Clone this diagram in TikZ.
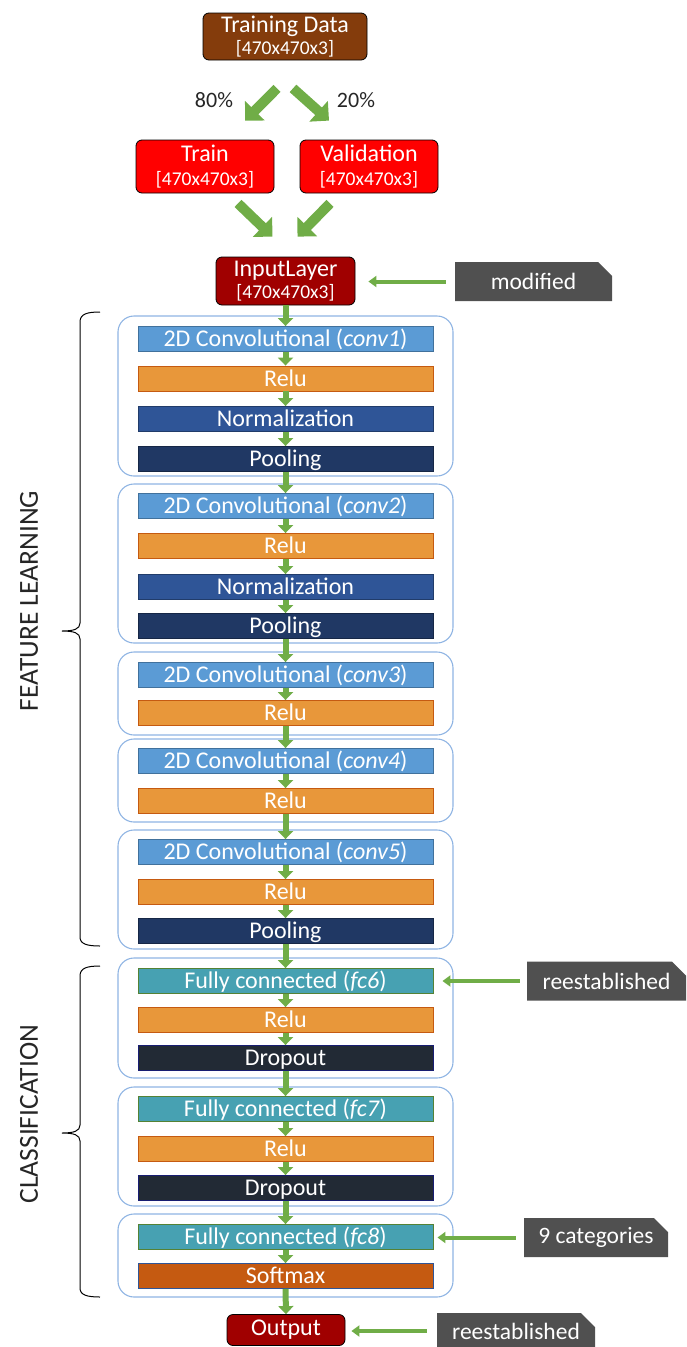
\documentclass[tikz,border=0pt]{standalone}
\usepackage{fontspec}
\setmainfont{Carlito}
\usetikzlibrary{arrows.meta,calc,shapes.misc}

\definecolor{tdbrown}{HTML}{843C0C}
\definecolor{splitred}{HTML}{FF0000}
\definecolor{inred}{HTML}{A00000}
\definecolor{grpline}{HTML}{8FB4E3}
\definecolor{convfill}{HTML}{5B9BD5}
\definecolor{convline}{HTML}{41719C}
\definecolor{relufill}{HTML}{E8973A}
\definecolor{reluline}{HTML}{C55A11}
\definecolor{normfill}{HTML}{2F5597}
\definecolor{poolfill}{HTML}{203864}
\definecolor{fcfill}{HTML}{47A1B2}
\definecolor{fcline}{HTML}{548235}
\definecolor{dropfill}{HTML}{222A35}
\definecolor{softfill}{HTML}{C55A11}
\definecolor{tagfill}{HTML}{505050}
\definecolor{arrowgreen}{HTML}{70AD47}
\definecolor{sidetext}{HTML}{262626}

\newcommand{\dimtext}[1]{{\fontsize{19.5}{20}\selectfont #1}}

\tikzset{
  datanode/.style={draw=black, line width=0.8pt, rounded corners=6pt, text=white,
    align=center, inner sep=0pt, font=\fontsize{24}{24}\selectfont},
  layer/.style={minimum width=295pt, minimum height=25pt, inner sep=0pt, line width=0.9pt,
    text=white, font=\fontsize{24}{24}\selectfont, text height=18pt, text depth=3pt},
  conv/.style={layer, fill=convfill, draw=convline},
  relu/.style={layer, fill=relufill, draw=reluline},
  norm/.style={layer, fill=normfill, draw=normfill!70!black},
  pool/.style={layer, fill=poolfill, draw=poolfill!70!black},
  fc/.style={layer, fill=fcfill, draw=fcline},
  drop/.style={layer, fill=dropfill, draw=dropfill!70!blue},
  soft/.style={layer, fill=softfill, draw=normfill},
  group/.style={draw=grpline, line width=1.1pt, rounded corners=16pt,
    minimum width=335pt, inner sep=0pt},
  tag/.style={chamfered rectangle, chamfered rectangle corners=north east,
    chamfered rectangle xsep=7pt, chamfered rectangle ysep=7pt,
    fill=tagfill, text=white, inner sep=0pt, minimum height=39pt,
    font=\fontsize{23.5}{23.5}\selectfont},
  chainarrow/.style={draw=arrowgreen, line width=6pt,
    -{Triangle[width=15pt,length=8pt]}},
  bigarrow/.style={draw=arrowgreen, line width=10pt,
    -{Triangle[width=27pt,length=14pt]}},
  tagarrow/.style={draw=arrowgreen, line width=4pt,
    -{Triangle[width=11pt,length=8pt]}},
  brace/.style={draw=black, line width=1pt},
  sidelabel/.style={rotate=90, text=sidetext, font=\fontsize{27.5}{27.5}\selectfont},
  pct/.style={text=sidetext, font=\fontsize{22}{22}\selectfont}
}

\begin{document}
\begin{tikzpicture}[x=1pt,y=-1pt]
\useasboundingbox (0,0) rectangle (686,1347);

% ---- data split ----
\node[datanode, fill=tdbrown, minimum width=164pt, minimum height=47pt] (td) at (285,36.5)
  {Training Data\\[-2pt]\dimtext{[470x470x3]}};
\node[datanode, fill=splitred, minimum width=138pt, minimum height=53pt] (train) at (205,166.5)
  {Train\\[0pt]\dimtext{[470x470x3]}};
\node[datanode, fill=splitred, minimum width=138pt, minimum height=53pt] (val) at (369,166.5)
  {Validation\\[0pt]\dimtext{[470x470x3]}};
\node[datanode, fill=inred, minimum width=139pt, minimum height=48pt] (inp) at (285.5,281)
  {InputLayer\\[-2pt]\dimtext{[470x470x3]}};

\node[pct] (p80) at (214,100) {80\%};
\node[pct] (p20) at (356,100) {20\%};

\draw[bigarrow] ($(td.south)+(-8,28)$) -- ($(train.north)+(40,-19)$);
\draw[bigarrow] ($(td.south)+(8,28)$) -- ($(val.north)+(-40,-19)$);
\draw[bigarrow] ($(train.south)+(33,10)$) -- ($(inp.north)+(-13,-20)$);
\draw[bigarrow] ($(val.south)+(-39,10)$) -- ($(inp.north)+(12,-20)$);

% ---- layer groups ----
\node[group, minimum height=160pt] (g1) at (285.5,396) {};
\node[group, minimum height=159pt] (g2) at (285.5,563.5) {};
\node[group, minimum height=83pt]  (g3) at (285.5,693.5) {};
\node[group, minimum height=83pt]  (g4) at (285.5,780.5) {};
\node[group, minimum height=119pt] (g5) at (285.5,889.5) {};
\node[group, minimum height=120pt] (g6) at (285.5,1018) {};
\node[group, minimum height=119pt] (g7) at (285.5,1146.5) {};
\node[group, minimum height=83pt]  (g8) at (285.5,1255.5) {};

% ---- layers ----
\node[conv] (c1) at (285.5,339) {2D Convolutional (\textit{conv1})};
\node[relu] (r1) at (285.5,378.5) {Relu};
\node[norm] (n1) at (285.5,419) {Normalization};
\node[pool] (p1) at (285.5,459) {Pooling};

\node[conv] (c2) at (285.5,506) {2D Convolutional (\textit{conv2})};
\node[relu] (r2) at (285.5,546) {Relu};
\node[norm] (n2) at (285.5,587) {Normalization};
\node[pool] (p2) at (285.5,626) {Pooling};

\node[conv] (c3) at (285.5,675) {2D Convolutional (\textit{conv3})};
\node[relu] (r3) at (285.5,713) {Relu};

\node[conv] (c4) at (285.5,761) {2D Convolutional (\textit{conv4})};
\node[relu] (r4) at (285.5,801) {Relu};

\node[conv] (c5) at (285.5,852) {2D Convolutional (\textit{conv5})};
\node[relu] (r5) at (285.5,892) {Relu};
\node[pool] (p5) at (285.5,931) {Pooling};

\node[fc]   (f6) at (285.5,981) {Fully connected (\textit{fc6})};
\node[relu] (r6) at (285.5,1020) {Relu};
\node[drop] (d6) at (285.5,1058) {Dropout};

\node[fc]   (f7) at (285.5,1109) {Fully connected (\textit{fc7})};
\node[relu] (r7) at (285.5,1149) {Relu};
\node[drop] (d7) at (285.5,1188) {Dropout};

\node[fc]   (f8) at (285.5,1237) {Fully connected (\textit{fc8})};
\node[soft] (s8) at (285.5,1276) {Softmax};

\node[datanode, fill=inred, minimum width=118pt, minimum height=31pt] (out) at (286,1330) {Output};

% ---- chain arrows ----
\foreach \a/\b in {inp/c1, c1/r1, r1/n1, n1/p1, p1/c2, c2/r2, r2/n2, n2/p2, p2/c3,
                   c3/r3, r3/c4, c4/r4, r4/c5, c5/r5, r5/p5, p5/f6, f6/r6, r6/d6,
                   d6/f7, f7/r7, r7/d7, d7/f8, f8/s8, s8/out}
  \draw[chainarrow] (\a.south) -- (\b.north);

% ---- annotations ----
\node[tag, minimum width=157pt] (t1) at (533.5,281.5) {modified};
\node[tag, minimum width=159pt] (t2) at (606.5,981) {reestablished};
\node[tag, minimum width=144pt] (t3) at (596,1237.5) {9 categories};
\node[tag, minimum width=158pt, minimum height=36pt] (t4) at (516,1331) {reestablished};

\draw[tagarrow, shorten <=9pt, shorten >=13pt] (t1.west) -- (inp.east |- t1.west);
\draw[tagarrow, shorten <=7pt, shorten >=9pt] (t2.west) -- (f6.east |- t2.west);
\draw[tagarrow, shorten <=8pt, shorten >=4pt] (t3.west) -- (f8.east |- t3.west);
\draw[tagarrow, shorten <=10pt, shorten >=6pt] (t4.west) -- (out.east |- t4.west);

% ---- braces ----
\draw[brace] (100,312) .. controls (87,312) and (80,314) .. (80,322) -- (80,623)
  .. controls (80,629) and (74,631) .. (62,631) .. controls (74,631) and (80,633) .. (80,639)
  -- (80,937) .. controls (80,944) and (87,946) .. (100,946);
\draw[brace] (100,966) .. controls (87,966) and (80,968) .. (80,976) -- (80,1125)
  .. controls (80,1131) and (74,1133) .. (62,1133) .. controls (74,1133) and (80,1135) .. (80,1141)
  -- (80,1288) .. controls (80,1295) and (87,1297) .. (100,1297);

\node[sidelabel] (fl) at (29,601) {FEATURE LEARNING};
\node[sidelabel] (cl) at (29,1114) {CLASSIFICATION};
\end{tikzpicture}
\end{document}
